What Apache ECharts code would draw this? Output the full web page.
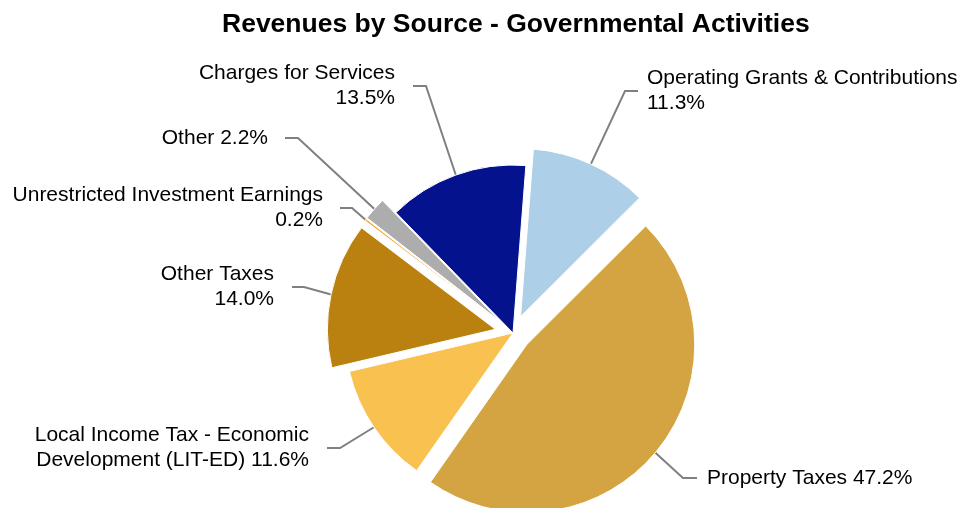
<!DOCTYPE html>
<html>
<head>
<meta charset="utf-8">
<script src="https://cdn.jsdelivr.net/npm/echarts@6/dist/echarts.min.js"></script>
<style>
html,body{margin:0;padding:0;background:#fff;}
#chart{width:965px;height:508px;}
</style>
</head>
<body>
<div id="chart"></div>
<script>
// ---- data ----
const categories = ['Operating Grants & Contributions','Property Taxes','Local Income Tax - Economic Development (LIT-ED)','Other Taxes','Unrestricted Investment Earnings','Other','Charges for Services'];
const values = [11.3, 47.2, 11.6, 14.0, 0.2, 2.2, 13.5];
const labelNames = ['Operating Grants & Contributions\n','Property Taxes ','Local Income Tax - Economic\nDevelopment (LIT-ED) ','Other Taxes\n','Unrestricted Investment Earnings\n','Other ','Charges for Services\n'];
const exploded = [true, true, false, true, true, true, false];

// ---- style / layout ----
const colors = ['#AECFE8','#D4A443','#F9C14F','#BA8110','#F5A623','#ADADAD','#04128E'];
const CX = 513, CY = 333, R = 168, OFFSET = 18, START = 85.6;
// label anchors: text x, line y, bend x, end x, align
const labelPos = [
  {x:647, y:91,  kx:625, ex:638, align:'left'},
  {x:707, y:478, kx:683, ex:697, align:'left'},
  {x:309, y:448, kx:340, ex:327, align:'right'},
  {x:274, y:287, kx:304, ex:292, align:'right'},
  {x:323, y:208, kx:352, ex:340, align:'right'},
  {x:268, y:138, kx:298, ex:285, align:'right'},
  {x:395, y:86,  kx:426, ex:413, align:'right'}
];

// mid-angles (clockwise from top, degrees) derived from the data
const total = values.reduce((a,b)=>a+b,0);
const midAngles = [];
let acc = 90 - START;
values.forEach(v => { const span = v/total*360; midAngles.push(acc + span/2); acc += span; });

function edgePoint(i){
  const a = midAngles[i] * Math.PI/180;
  const off = exploded[i] ? OFFSET : 0;
  const cx = CX + Math.sin(a)*off, cy = CY - Math.cos(a)*off;
  return [cx + Math.sin(a)*R, cy - Math.cos(a)*R];
}

const FONT = 'Liberation Sans, Arial, sans-serif';
const chart = echarts.init(document.getElementById('chart'));
chart.setOption({
  animation: false,
  backgroundColor: '#fff',
  title: {
    text: 'Revenues by Source - Governmental Activities',
    left: 217, top: 6,
    textStyle: {fontFamily: FONT, fontSize: 26.5, fontWeight: 'bold', color: '#000'}
  },
  series: [{
    // visible slices (with exploded pieces)
    type: 'pie',
    center: [CX, CY],
    radius: [0, R],
    startAngle: START,
    clockwise: true,
    selectedMode: 'multiple',
    selectedOffset: OFFSET,
    select: {itemStyle: {}},
    emphasis: {disabled: true},
    itemStyle: {borderColor: '#fff', borderWidth: 1},
    label: {show: false},
    labelLine: {show: false},
    data: categories.map((c,i) => ({
      name: c, value: values[i], selected: exploded[i],
      itemStyle: {color: colors[i]}
    }))
  }, {
    // label layer: same geometry, invisible slices
    type: 'pie',
    center: [CX, CY],
    radius: [0, R],
    startAngle: START,
    clockwise: true,
    silent: true,
    avoidLabelOverlap: false,
    selectedMode: false,
    emphasis: {disabled: true},
    itemStyle: {color: 'rgba(0,0,0,0)', borderWidth: 0},
    label: {
      show: true, position: 'outside',
      fontFamily: FONT, fontSize: 21, lineHeight: 25, color: '#000',
      formatter: p => labelNames[p.dataIndex] + values[p.dataIndex].toFixed(1) + '%'
    },
    labelLine: {show: true, lineStyle: {color: '#808080', width: 2}},
    labelLayout: function(p){
      const L = labelPos[p.dataIndex];
      return {
        x: L.x, y: L.y, align: L.align, verticalAlign: 'middle',
        labelLinePoints: [edgePoint(p.dataIndex), [L.kx, L.y], [L.ex, L.y]]
      };
    },
    data: categories.map((c,i) => ({name: c, value: values[i]}))
  }]
});
</script>
</body>
</html>
